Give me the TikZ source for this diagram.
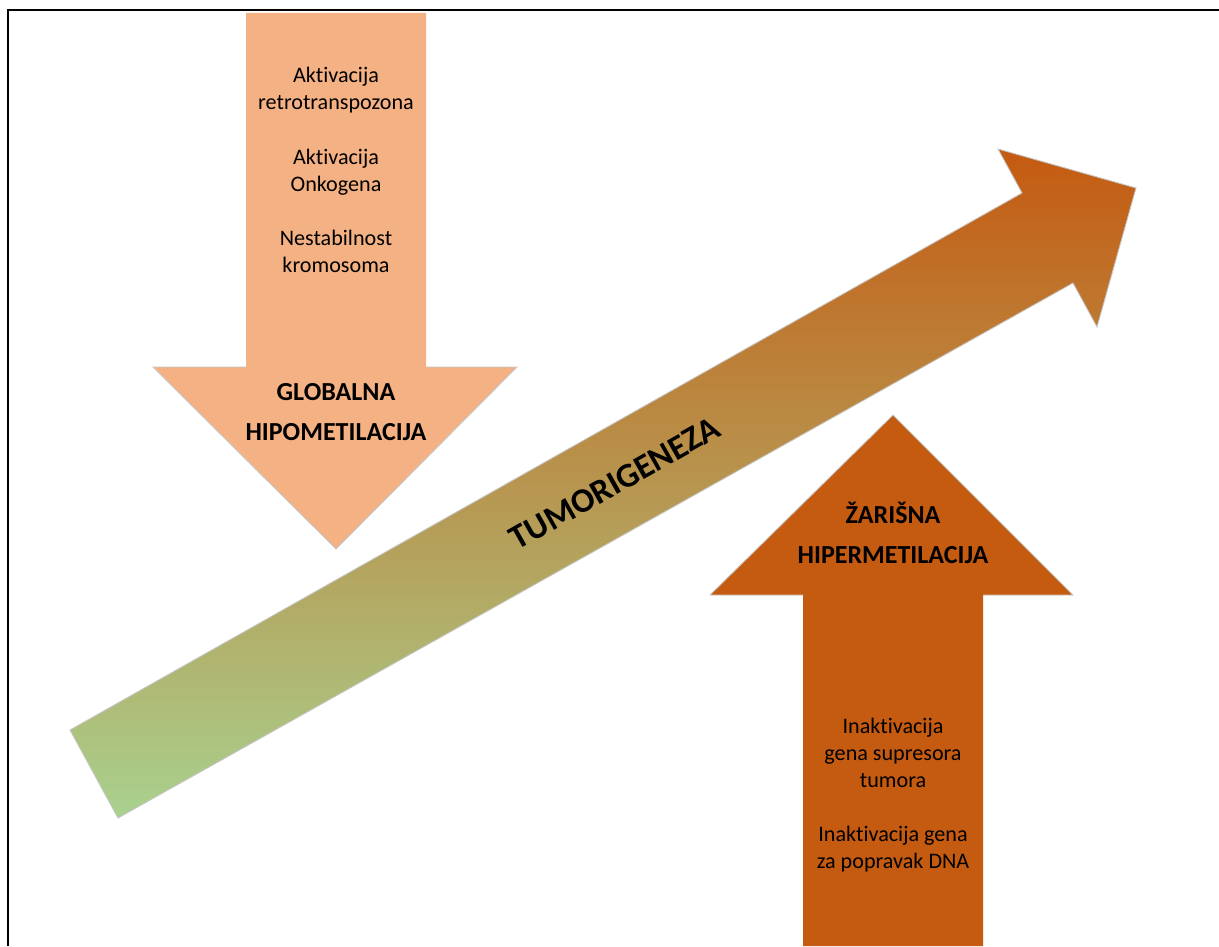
\documentclass[tikz,border=0pt]{standalone}
\usepackage{fontspec}
\setmainfont{Carlito}[Ligatures=NoCommon]
\definecolor{lightorange}{HTML}{F4B183}
\definecolor{darkorange}{HTML}{C55A11}
\definecolor{lightgreen}{HTML}{A9D18E}
\tikzset{
  arrowshape/.style={draw=gray!45, line width=0.5pt},
  smalltext/.style={align=center, font=\fontsize{12.6}{15.4}\selectfont},
  boldtext/.style={align=center, font=\fontsize{14.8}{22.5}\selectfont\bfseries},
}
\begin{document}
\begin{tikzpicture}[x=0.02cm, y=-0.02cm]
\useasboundingbox (0,0) rectangle (1219,946);
% frame
\draw [line width=1.2pt] (8,946) -- (8,10) -- (1219,10);
%
\fill [lightorange] (246,13) -- (426,13) -- (426,367) -- (517,367) -- (336,549) -- (153,367) -- (246,367) -- cycle;
\draw [arrowshape] (246,367) -- (153,367) -- (336,549) -- (517,367) -- (426,367);
%
\fill [darkorange] (803,946) -- (803,595) -- (710,595) -- (893,415) -- (1073,595) -- (983,595) -- (983,946) -- cycle;
\draw [arrowshape] (803,595) -- (710,595) -- (893,415) -- (1073,595) -- (983,595);
%
\shadedraw [arrowshape, top color=darkorange, bottom color=lightgreen] (70,730) -- (1022,193) -- (998,149) -- (1136,188) -- (1097,327) -- (1073,283) -- (118,818) -- cycle;
%
\node [smalltext] (hypoeffects) at (336,170) {Aktivacija\\retrotranspozona\\[15.4pt]Aktivacija\\Onkogena\\[15.4pt]Nestabilnost\\kromosoma};
\node [boldtext] (hypolabel) at (336,412) {GLOBALNA\\HIPOMETILACIJA};
\node [boldtext] (hyperlabel) at (893,533) {ŽARIŠNA\\HIPERMETILACIJA};
\node [smalltext] (hypereffects) at (893,795) {Inaktivacija\\gena supresora\\tumora\\[15.4pt]Inaktivacija gena\\za popravak DNA};
\node [font=\fontsize{19.5}{23}\selectfont\bfseries, rotate=29.4] (tumorlabel) at (615,483) {TUMORIGENEZA};
%%%%%%%%%%%%%%%%%%%%%%%%%%%%%%%
\end{tikzpicture}
\end{document}
